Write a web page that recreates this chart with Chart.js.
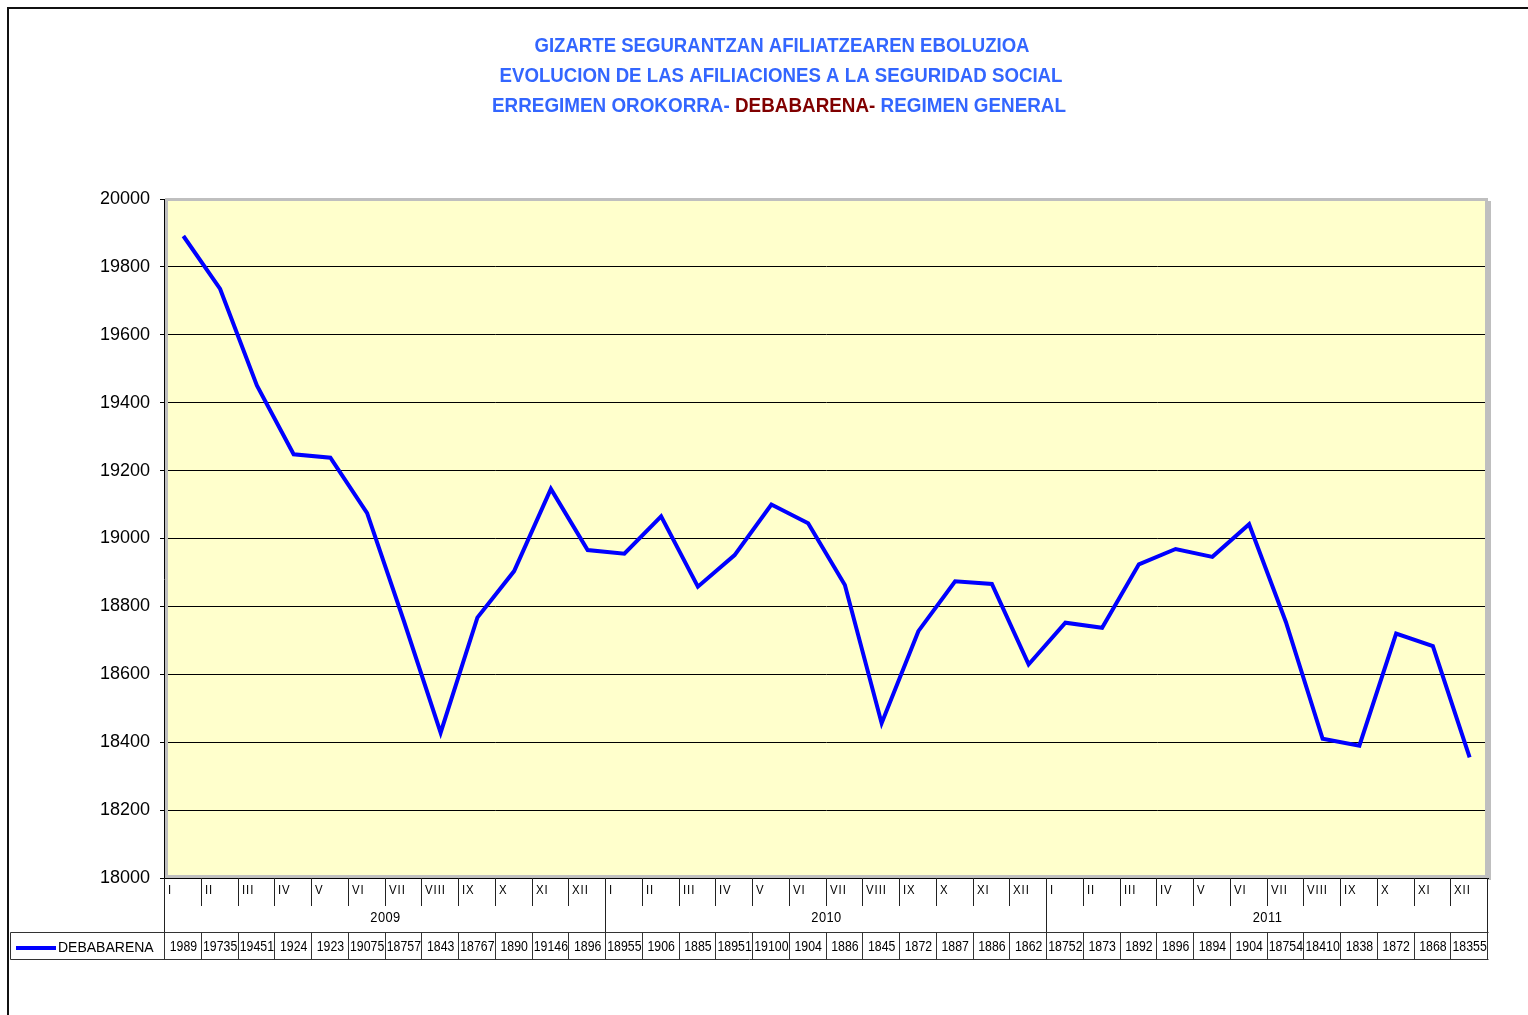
<!DOCTYPE html>
<html>
<head>
<meta charset="utf-8">
<script src="https://cdn.jsdelivr.net/npm/chart.js@4.4.1/dist/chart.umd.min.js"></script>
<style>
html,body{margin:0;padding:0;background:#fff;}
#wrap{width:1528px;height:1015px;position:relative;}
</style>
</head>
<body>
<div id="wrap"><canvas id="c"></canvas></div>
<script>
// ---------------- DATA ----------------
const months = ['I','II','III','IV','V','VI','VII','VIII','IX','X','XI','XII'];
const years = ['2009','2010','2011'];
const categories = [].concat(months, months, months);
const seriesName = 'DEBABARENA';
const values2009 = [19891, 19735, 19451, 19248, 19238, 19075, 18757, 18428, 18767, 18904, 19146, 18966];
const values2010 = [18955, 19065, 18858, 18951, 19100, 19045, 18863, 18456, 18727, 18874, 18866, 18629];
const values2011 = [18752, 18737, 18924, 18969, 18946, 19042, 18754, 18410, 18390, 18720, 18683, 18355];
const values = [].concat(values2009, values2010, values2011);
// texts as shown (truncated) in the data table row
const tableText = ['1989','19735','19451','1924','1923','19075','18757','1843','18767','1890','19146','1896',
                   '18955','1906','1885','18951','19100','1904','1886','1845','1872','1887','1886','1862',
                   '18752','1873','1892','1896','1894','1904','18754','18410','1838','1872','1868','18355'];
const yMin = 18000, yMax = 20000, yStep = 200;
const titleLine1 = 'GIZARTE SEGURANTZAN AFILIATZEAREN EBOLUZIOA';
const titleLine2 = 'EVOLUCION DE LAS AFILIACIONES A LA SEGURIDAD SOCIAL';
const titleLine3 = ['ERREGIMEN OROKORRA- ', 'DEBABARENA-', ' REGIMEN GENERAL'];

// ---------------- STYLE ----------------
const FONT = '"Liberation Sans", Arial, Helvetica, sans-serif';
const BLUE_T = '#3366FF';
const RED_T = '#800000';
const LINE_BLUE = '#0000FF';

function sText(ctx, txt, x, y, size, weight, align, sx, color, ls) {
  ctx.save();
  ctx.font = (weight || 'normal') + ' ' + size + 'px ' + FONT;
  ctx.fillStyle = color;
  ctx.textBaseline = 'middle';
  ctx.textAlign = 'left';
  if (ls) ctx.letterSpacing = ls;
  const w = ctx.measureText(txt).width * sx;
  let x0 = x;
  if (align === 'center') x0 = x - w / 2;
  else if (align === 'right') x0 = x - w;
  ctx.translate(x0, y);
  ctx.scale(sx, 1);
  ctx.fillText(txt, 0, 0);
  ctx.restore();
  return w;
}

function titleParts(ctx, parts, colors, cx, y, size, target) {
  ctx.save();
  ctx.font = 'bold ' + size + 'px ' + FONT;
  let tot = 0;
  parts.forEach(p => tot += ctx.measureText(p).width);
  const sx = target / tot;
  let x = cx - target / 2;
  ctx.restore();
  parts.forEach((p, i) => {
    x += sText(ctx, p, x, y, size, 'bold', 'left', sx, colors[i]);
  });
}

const decor = {
  id: 'decor',
  beforeDraw(chart) {
    const ctx = chart.ctx, a = chart.chartArea;
    ctx.save();
    ctx.fillStyle = '#fff';
    ctx.fillRect(0, 0, chart.width, chart.height);
    ctx.fillStyle = '#FFFFCC';
    ctx.fillRect(a.left, a.top, a.right - a.left, a.bottom - a.top);
    ctx.restore();
  },
  beforeDatasetsDraw(chart) {
    const ctx = chart.ctx, a = chart.chartArea;
    ctx.save();
    // gray plot border with shadow
    ctx.strokeStyle = '#BFBFBF';
    ctx.lineWidth = 3;
    ctx.strokeRect(a.left + 1.5, a.top + 0.5, a.right - a.left - 3, a.bottom - a.top - 2);
    ctx.fillStyle = '#BFBFBF';
    ctx.fillRect(a.right - 1, a.top + 2, 4, a.bottom - a.top);
    // axis lines
    ctx.strokeStyle = '#000';
    ctx.lineWidth = 1;
    ctx.beginPath();
    ctx.moveTo(a.left - 0.5, a.top);
    ctx.lineTo(a.left - 0.5, 960);
    ctx.moveTo(a.left - 5, a.bottom + 0.5);
    ctx.lineTo(a.right + 1, a.bottom + 0.5);
    ctx.stroke();
    ctx.restore();
  },
  afterDraw(chart) {
    const ctx = chart.ctx, a = chart.chartArea, xs = chart.scales.x;
    const n = categories.length;
    const w = (xs.right - xs.left) / n;
    ctx.save();
    // outer frame
    ctx.strokeStyle = '#111';
    ctx.lineWidth = 2;
    ctx.beginPath();
    ctx.moveTo(8, 1015);
    ctx.lineTo(8, 8);
    ctx.lineTo(1528, 8);
    ctx.stroke();

    // category axis ticks
    ctx.strokeStyle = '#222';
    ctx.lineWidth = 1;
    ctx.beginPath();
    for (let i = 0; i <= n; i++) {
      const bx = Math.round(xs.left + i * w) - 0.5;
      const full = (i % 12 === 0);
      ctx.moveTo(bx, a.bottom);
      ctx.lineTo(bx, full ? 960 : 906);
    }
    ctx.stroke();

    // table row
    ctx.strokeStyle = '#333';
    ctx.beginPath();
    ctx.moveTo(10.5, 932.5); ctx.lineTo(xs.right + 0.5, 932.5);
    ctx.moveTo(10.5, 959.5); ctx.lineTo(xs.right + 0.5, 959.5);
    ctx.moveTo(10.5, 932.5); ctx.lineTo(10.5, 959.5);
    for (let i = 0; i <= n; i++) {
      const bx = Math.round(xs.left + i * w) - 0.5;
      ctx.moveTo(bx, 932.5); ctx.lineTo(bx, 959.5);
    }
    ctx.stroke();

    // month labels
    for (let i = 0; i < n; i++) {
      const bx = Math.round(xs.left + i * w);
      sText(ctx, categories[i], bx + 3, 891, 12, 'normal', 'left', 0.95, '#000', '1px');
    }
    // year labels
    years.forEach((y, k) => {
      const cx = xs.left + (k * 12 + 6) * w;
      sText(ctx, y, cx, 918, 14, 'normal', 'center', 0.92, '#000', '0.5px');
    });
    // values row
    for (let i = 0; i < n; i++) {
      const cx = xs.getPixelForValue(i);
      sText(ctx, tableText[i], cx, 946.5, 15, 'normal', 'center', 0.82, '#000');
    }
    // legend key
    ctx.strokeStyle = LINE_BLUE;
    ctx.lineWidth = 4;
    ctx.beginPath();
    ctx.moveTo(16, 948); ctx.lineTo(56, 948);
    ctx.stroke();
    sText(ctx, seriesName, 58, 948, 14, 'normal', 'left', 1.0, '#000');

    // titles
    titleParts(ctx, [titleLine1], [BLUE_T], 782, 46, 21, 495);
    titleParts(ctx, [titleLine2], [BLUE_T], 781, 76, 21, 563);
    titleParts(ctx, titleLine3, [BLUE_T, RED_T, BLUE_T], 779, 106, 21, 574);
    ctx.restore();
  }
};

new Chart(document.getElementById('c'), {
  type: 'line',
  data: {
    labels: categories,
    datasets: [{
      label: seriesName,
      data: values,
      borderColor: LINE_BLUE,
      backgroundColor: LINE_BLUE,
      borderWidth: 4,
      pointRadius: 0,
      pointHoverRadius: 0,
      tension: 0,
      fill: false
    }]
  },
  options: {
    responsive: true,
    maintainAspectRatio: false,
    animation: false,
    events: [],
    layout: { padding: { left: 0, top: 199, right: 40, bottom: 137 } },
    plugins: { legend: { display: false }, tooltip: { enabled: false }, title: { display: false } },
    scales: {
      x: { type: 'category', offset: true, display: false },
      y: {
        min: yMin, max: yMax,
        ticks: { stepSize: yStep, color: '#000', padding: 10, font: { family: FONT, size: 18 },
                 callback: (v) => String(v) },
        grid: { color: '#000', lineWidth: 1, tickLength: 5, drawTicks: true },
        border: { display: false },
        afterFit(axis) { axis.width = 165; }
      }
    }
  },
  plugins: [decor]
});
</script>
</body>
</html>
